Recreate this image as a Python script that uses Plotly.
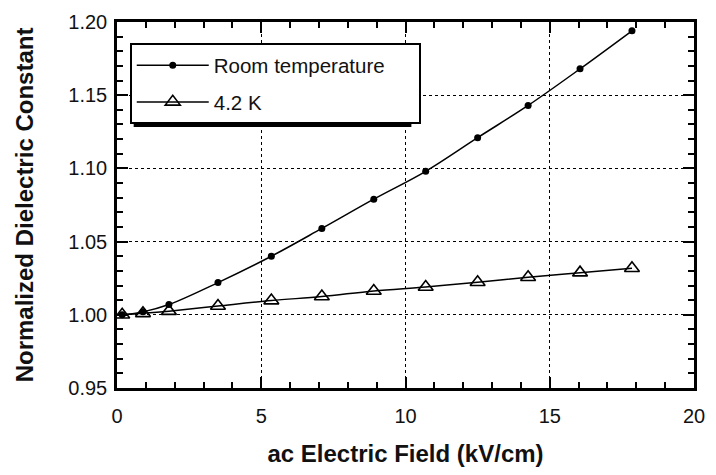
import plotly.graph_objects as go

x_room = [0.18, 0.9, 1.8, 3.5, 5.35, 7.1, 8.9, 10.7, 12.5, 14.25, 16.05, 17.85]
y_room = [1.000, 1.002, 1.007, 1.022, 1.040, 1.059, 1.079, 1.098, 1.121, 1.143, 1.168, 1.194]

x_cold = [0.18, 0.9, 1.8, 3.5, 5.35, 7.1, 8.9, 10.7, 12.5, 14.25, 16.05, 17.85]
y_cold = [1.000, 1.001, 1.0025, 1.006, 1.0097, 1.0125, 1.0163, 1.019, 1.0222, 1.0256, 1.0288, 1.0318]

x_ticks = [0, 5, 10, 15, 20]
y_ticks = [0.95, 1.00, 1.05, 1.10, 1.15, 1.20]

series_names = ["Room temperature", "4.2 K"]

font = "Liberation Sans, Arial, sans-serif"
pad = "\u00a0" * 5

fig = go.Figure()
fig.add_trace(go.Scatter(
    x=x_room, y=y_room, mode="lines+markers", name=series_names[0] + pad,
    line=dict(color="black", width=1.5, shape="spline"),
    marker=dict(symbol="circle", size=7, color="black"),
    legendgroup="a",
))
fig.add_trace(go.Scatter(
    x=x_cold, y=y_cold, mode="lines+markers", name=series_names[1],
    line=dict(color="black", width=1.5, shape="spline"),
    marker=dict(symbol="triangle-up-open", size=13, color="black", line=dict(width=1.6)),
    legendgroup="b",
))

axis_common = dict(
    showline=True, linecolor="black", linewidth=2.5, mirror="allticks",
    ticks="inside", ticklen=11, tickwidth=1.5, tickcolor="black",
    showgrid=True, gridcolor="black", gridwidth=1.3, griddash="dot",
    zeroline=False,
    tickfont=dict(family=font, size=20, color="#111"),
)

fig.update_xaxes(
    range=[0, 20], tickvals=x_ticks, ticktext=[str(v) for v in x_ticks],
    minor=dict(ticks="inside", dtick=1, ticklen=6, tickwidth=1.5, tickcolor="black", showgrid=False),
    title=dict(text="<b>ac Electric Field (kV/cm)</b>", font=dict(family=font, size=24, color="#111"), standoff=20),
    ticklabelstandoff=8,
    **axis_common,
)
fig.update_yaxes(
    range=[0.95, 1.20], tickvals=y_ticks, ticktext=["%.2f" % v for v in y_ticks],
    minor=dict(ticks="inside", dtick=0.01, ticklen=6, tickwidth=1.5, tickcolor="black", showgrid=False),
    title=dict(text="<b>Normalized Dielectric Constant</b>", font=dict(family=font, size=24, color="#111"), standoff=28),
    ticklabelstandoff=3,
    **axis_common,
)

# legend shadow
fig.add_shape(type="rect", xref="paper", yref="paper",
              x0=0.0289, x1=0.5102, y0=0.7128, y1=0.9309,
              fillcolor="black", line=dict(width=0), layer="above")

fig.update_layout(
    width=716, height=475,
    margin=dict(l=117, r=11, t=14, b=85),
    paper_bgcolor="white", plot_bgcolor="white",
    showlegend=True,
    legend=dict(
        x=0.0221, y=0.9415, xanchor="left", yanchor="top",
        bgcolor="white", bordercolor="black", borderwidth=2,
        font=dict(family=font, size=20.5, color="#111"),
        itemwidth=72, tracegroupgap=7,
    ),
)

fig.write_html("out.html")
